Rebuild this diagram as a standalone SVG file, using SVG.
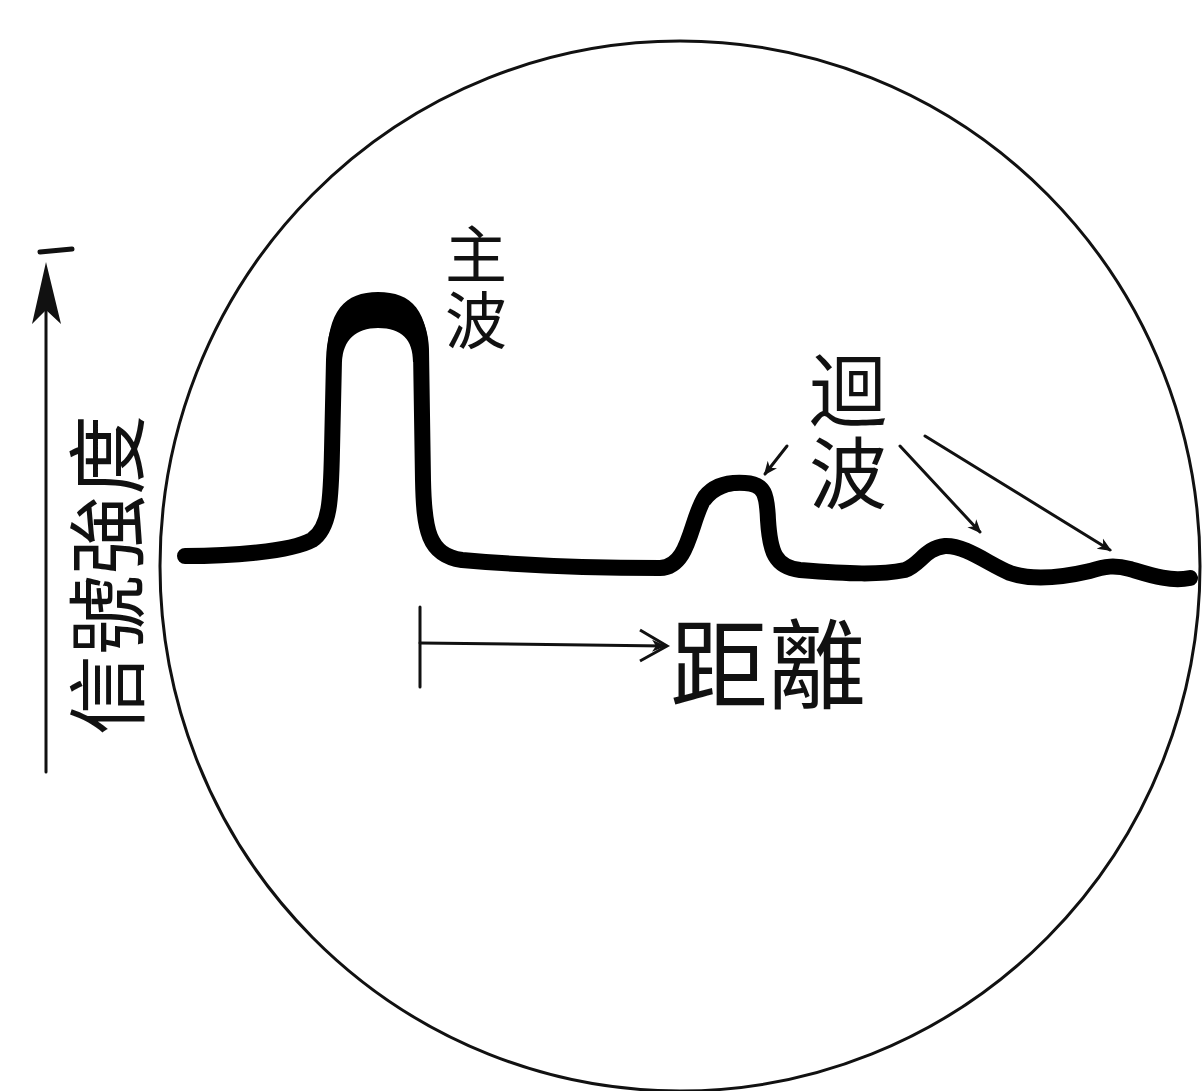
<svg xmlns="http://www.w3.org/2000/svg" width="1204" height="1091" viewBox="0 0 1204 1091">
<style>
.lbl{font-family:"Noto Sans CJK SC","Noto Sans CJK TC",sans-serif;fill:#111;}
.vert{writing-mode:vertical-rl;}
.thin{fill:none;stroke:#111;stroke-width:3;stroke-linecap:round;}
.trace{fill:none;stroke:#000;stroke-width:16;stroke-linecap:round;stroke-linejoin:round;}
</style>
<defs>
<marker id="ah" markerWidth="14" markerHeight="14" refX="12" refY="7" orient="auto" markerUnits="userSpaceOnUse" viewBox="0 0 14 14">
<path d="M0,1 L14,7 L0,13 L4,7 Z" fill="#111"/>
</marker>
</defs>
<rect width="1204" height="1091" fill="#fff"/>
<g id="screen">
<ellipse cx="680" cy="566" rx="520" ry="525" fill="none" stroke="#111" stroke-width="3"/>
</g>
<g id="trace">
<path class="trace" d="M185,556 C230,556 290,552 312,540 C330,528 331,500 332,450 L334,360 C335,320 352,302 378,302 C404,302 420,318 421,350 L423,480 C424,530 428,555 462,560 C520,565 600,568 660,568 C690,567 690,520 705,497 C715,484 730,482 745,483 C765,484 767,495 768,520 C770,552 775,567 800,570 C850,574 880,575 905,570 C920,565 925,548 945,546 C965,545 990,565 1010,573 C1030,580 1060,578 1090,571 C1105,566 1115,565 1130,569 C1150,575 1170,582 1190,578"/>
<path d="M327,362 C327,310 345,292 378,292 C412,292 429,310 429,362 L413,362 C413,340 402,328 378,328 C356,328 343,340 342,362 Z" fill="#000"/>
<path d="M700,500 C712,480 730,477 748,478 C764,480 772,490 772,505 L764,505 C762,494 755,490 745,490 C730,490 718,494 710,505 Z" fill="#000"/>
</g>
<g id="axis-y">
<line class="thin" x1="46" y1="772" x2="46" y2="290"/>
<path d="M46,262 L32,324 L46,310 L61,324 Z" fill="#111"/>
<line x1="40" y1="252" x2="72" y2="249" stroke="#111" stroke-width="5" stroke-linecap="round"/>
<text class="lbl" font-size="80" text-anchor="middle" dominant-baseline="central" transform="translate(102,575) rotate(-90)">信號強度</text>
</g>
<g id="label-main">
<text class="lbl vert" font-size="62" letter-spacing="4" x="476" y="223">主波</text>
</g>
<g id="label-echo">
<text class="lbl vert" font-size="78" letter-spacing="5" x="848" y="351">迴波</text>
</g>
<g id="axis-x">
<line class="thin" x1="420" y1="607" x2="420" y2="687"/>
<line class="thin" x1="420" y1="643" x2="664" y2="646" marker-end="url(#ah)"/>
<path d="M640,630 L667,646 L640,661" fill="none" stroke="#111" stroke-width="3"/>
<text class="lbl" font-size="98" dominant-baseline="central" x="670" y="658">距離</text>
</g>
<g id="connectors">
<line class="thin" x1="787" y1="446" x2="765" y2="474" marker-end="url(#ah)" stroke-width="2"/>
<line class="thin" x1="900" y1="446" x2="980" y2="532" marker-end="url(#ah)" stroke-width="2.5"/>
<line class="thin" x1="925" y1="436" x2="1110" y2="550" marker-end="url(#ah)" stroke-width="2.5"/>
</g>
</svg>
